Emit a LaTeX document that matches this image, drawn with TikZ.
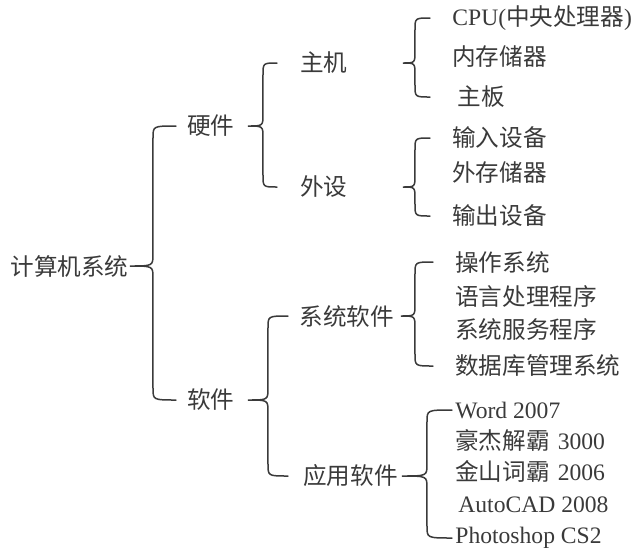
\documentclass[tikz,border=0pt]{standalone}
\usepackage{fontspec}
\setmainfont{Liberation Serif}
\newfontfamily\cjk{Noto Sans CJK SC}
\usetikzlibrary{calc}
\definecolor{ink}{HTML}{3A3A3A}

% curly brace: parent, first child, last child, tip x, spine x, arm x
\newcommand{\bracelink}[6]{%
  \draw[brace] let \p1=(#1.west), \p2=(#2.west), \p3=(#3.west),
      \p4=(#4,0), \p5=(#5,0), \p6=(#6,0) in
    (\x6,\y2) .. controls (\x5,\y2) .. (\x5,\y2-6pt)
    -- (\x5,\y1+6pt) .. controls (\x5,\y1) .. (\x4,\y1)
    .. controls (\x5,\y1) .. (\x5,\y1-6pt)
    -- (\x5,\y3+6pt) .. controls (\x5,\y3) .. (\x6,\y3);
}

\begin{document}
\begin{tikzpicture}[x=0.5pt,y=-0.5pt,
    item/.style={anchor=west, inner sep=0pt, text=ink, font=\fontsize{11.8}{14}\selectfont},
    brace/.style={draw=ink, line width=0.75pt, line cap=round}
]
\useasboundingbox (0,0) rectangle (634,548);

% levels 1 and 2
\node[item] (comp) at (10,266) {\cjk 计算机系统};
\node[item] (hw) at (187,126) {\cjk 硬件};
\node[item] (sw) at (187,400) {\cjk 软件};
\node[item] (host) at (300,63) {\cjk 主机};
\node[item] (peri) at (300,187) {\cjk 外设};
\node[item] (syssw) at (299,316) {\cjk 系统软件};
\node[item] (appsw) at (303,476) {\cjk 应用软件};

% leaves
\node[item] (cpu) at (452,18) {CPU({\cjk 中央处理器})};
\node[item] (mem) at (452,57) {\cjk 内存储器};
\node[item] (board) at (457,97) {\cjk 主板};
\node[item] (inp) at (452,138) {\cjk 输入设备};
\node[item] (ext) at (452,173) {\cjk 外存储器};
\node[item] (outp) at (452,216) {\cjk 输出设备};
\node[item] (os) at (455,262) {\cjk 操作系统};
\node[item] (lang) at (455,297) {\cjk 语言处理程序};
\node[item] (svc) at (455,330) {\cjk 系统服务程序};
\node[item] (dbms) at (455,366) {\cjk 数据库管理系统};
\node[item] (word) at (455,410) {Word 2007};
\node[item] (hjjb) at (455,440) {{\cjk 豪杰解霸}\hspace{4pt}3000};
\node[item] (jscb) at (455,471) {{\cjk 金山词霸}\hspace{4pt}2006};
\node[item] (cad) at (458,505) {AutoCAD 2008};
\node[item] (ps) at (455,538) {Photoshop CS2};

% braces
\bracelink{comp}{hw}{sw}{130}{153}{176}
\bracelink{hw}{host}{peri}{248}{263}{277}
\bracelink{sw}{syssw}{appsw}{248}{268}{288}
\bracelink{host}{cpu}{board}{403}{415}{430}
\bracelink{peri}{inp}{outp}{403}{415}{430}
\bracelink{syssw}{os}{dbms}{401}{415}{433}
\bracelink{appsw}{word}{ps}{402}{427}{452}
\end{tikzpicture}
\end{document}
